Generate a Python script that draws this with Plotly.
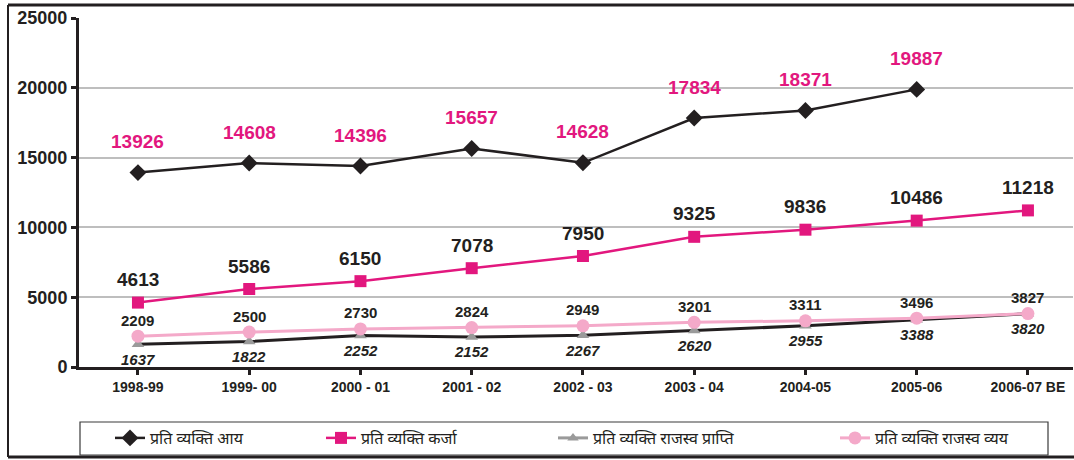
import plotly.graph_objects as go

years = ["1998-99", "1999- 00", "2000 - 01", "2001 - 02", "2002 - 03",
         "2003 - 04", "2004-05", "2005-06", "2006-07 BE"]
income = [13926, 14608, 14396, 15657, 14628, 17834, 18371, 19887, None]
debt = [4613, 5586, 6150, 7078, 7950, 9325, 9836, 10486, 11218]
rev_receipt = [1637, 1822, 2252, 2152, 2267, 2620, 2955, 3388, 3820]
rev_expend = [2209, 2500, 2730, 2824, 2949, 3201, 3311, 3496, 3827]

names = ["प्रति व्यक्ति आय", "प्रति व्यक्ति कर्जा",
         "प्रति व्यक्ति राजस्व प्राप्ति", "प्रति व्यक्ति राजस्व व्यय"]
yticks = [0, 5000, 10000, 15000, 20000, 25000]

BLACK = "#231F20"
MAGENTA = "#E2177E"
GREY = "#9A9A9A"
PINK = "#F4A9C9"
FONT = "Liberation Sans, Arial, sans-serif"
HFONT = "Noto Sans Devanagari, Lohit Devanagari, Mangal, Noto Sans, sans-serif"

xi = list(range(len(years)))

fig = go.Figure()
fig.add_trace(go.Scatter(x=xi, y=income, mode="lines+markers", name=names[0],
                         line=dict(color=BLACK, width=2.5),
                         marker=dict(symbol="diamond", size=13, color=BLACK),
                         legend="legend"))
fig.add_trace(go.Scatter(x=xi, y=debt, mode="lines+markers", name=names[1],
                         line=dict(color=MAGENTA, width=2.5),
                         marker=dict(symbol="square", size=12, color=MAGENTA),
                         legend="legend2"))
fig.add_trace(go.Scatter(x=xi, y=rev_receipt, mode="lines+markers", name=names[2],
                         line=dict(color=BLACK, width=3),
                         marker=dict(symbol="triangle-up", size=11, color=GREY),
                         showlegend=False))
fig.add_trace(go.Scatter(x=[None], y=[None], mode="lines+markers", name=names[2],
                         line=dict(color=GREY, width=3),
                         marker=dict(symbol="triangle-up", size=10, color=GREY),
                         legend="legend3"))
fig.add_trace(go.Scatter(x=xi, y=rev_expend, mode="lines+markers", name=names[3],
                         line=dict(color=PINK, width=3),
                         marker=dict(symbol="circle", size=13, color=PINK),
                         legend="legend4"))

annotations = []
label_specs = [
    (income, MAGENTA, 19, 31, "normal"),
    (debt, BLACK, 19, 23, "normal"),
    (rev_receipt, BLACK, 15, -15, "italic"),
    (rev_expend, BLACK, 15, 16, "normal"),
]
for vals, col, size, shift, style in label_specs:
    for i, v in enumerate(vals):
        if v is None:
            continue
        annotations.append(dict(x=i, y=v, xref="x", yref="y", text=str(v),
                                showarrow=False, yshift=shift,
                                font=dict(family=FONT, size=size, color=col,
                                          weight="bold", style=style)))

# plot area: x 79..1073 px, y 18..367 px
def px(xp):
    return (xp - 79) / 994.0

def py(yp):
    return (367 - yp) / 349.0

shapes = [
    dict(type="rect", xref="paper", yref="paper", x0=px(80), x1=px(1048),
         y0=py(455), y1=py(422), line=dict(color="#3a3a3a", width=1.2)),
    dict(type="line", xref="paper", yref="paper", x0=px(8), x1=px(1074),
         y0=py(5), y1=py(5), line=dict(color=BLACK, width=3)),
    dict(type="line", xref="paper", yref="paper", x0=px(8), x1=px(8),
         y0=py(5), y1=py(457), line=dict(color=BLACK, width=2)),
    dict(type="line", xref="paper", yref="paper", x0=px(8), x1=px(1074),
         y0=py(457), y1=py(457), line=dict(color=BLACK, width=3)),
]

def leg(xpix):
    return dict(x=px(xpix), xanchor="left", y=py(438), yanchor="middle",
                orientation="h", bgcolor="rgba(0,0,0,0)", borderwidth=0,
                font=dict(family=HFONT, size=16, color=BLACK))

fig.update_layout(
    width=1074, height=460,
    margin=dict(l=79, r=1, t=18, b=93),
    plot_bgcolor="white", paper_bgcolor="white",
    showlegend=True,
    legend=leg(110), legend2=leg(321), legend3=leg(553), legend4=leg(835),
    annotations=annotations, shapes=shapes,
    xaxis=dict(range=[-0.53, 8.405], tickmode="array", tickvals=xi, ticktext=years,
               showgrid=False, zeroline=False, showline=True, linecolor=BLACK,
               linewidth=3, ticks="outside", ticklen=5, tickwidth=3, tickcolor=BLACK,
               tickfont=dict(family=FONT, size=14, color=BLACK, weight="bold")),
    yaxis=dict(range=[0, 25000], tickmode="array", tickvals=yticks,
               ticktext=[str(t) for t in yticks],
               showgrid=True, gridcolor="#BEBEBE", gridwidth=2, zeroline=False,
               showline=True, linecolor=BLACK, linewidth=3, ticks="outside",
               ticklen=5, tickwidth=3, tickcolor=BLACK,
               tickfont=dict(family=FONT, size=18, color=BLACK, weight="bold")),
)

fig.write_html("out.html", config={"displayModeBar": False},
               post_script="document.body.style.margin='0px';document.body.style.overflow='hidden';")
